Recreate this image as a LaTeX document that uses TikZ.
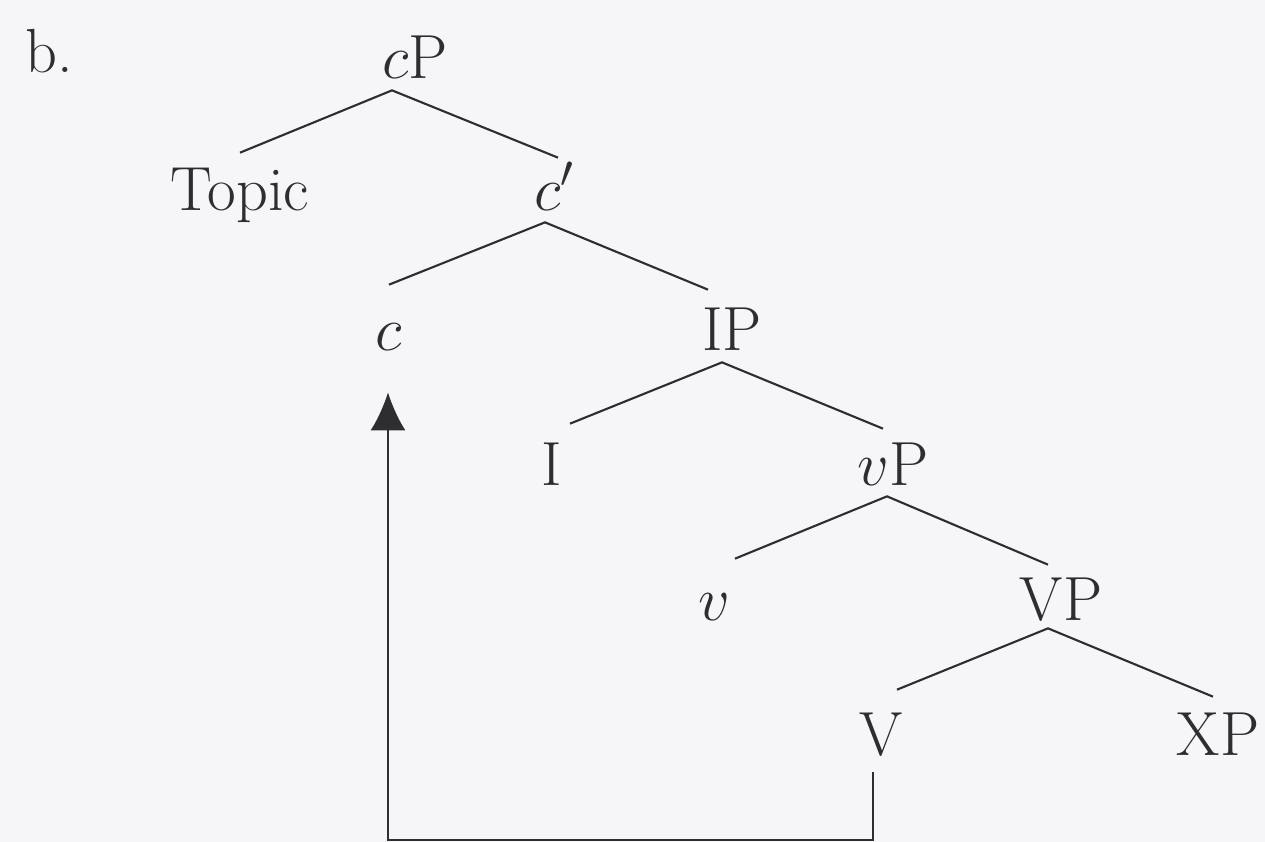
\RequirePackage{fix-cm}
\documentclass[tikz,border=0pt]{standalone}
\usetikzlibrary{arrows.meta,calc}
\DeclareMathSizes{35.5}{35.5}{26}{20}
\definecolor{paper}{rgb}{0.965,0.962,0.968}
\definecolor{ink}{rgb}{0.18,0.18,0.19}
\tikzset{
  lbl/.style={anchor=base,inner sep=0pt,text height=0.86cm,text depth=0pt,text=ink,font=\fontsize{35.5}{40}\selectfont},
  branch/.style={draw=ink,line width=1.2pt},
  movearrow/.style={draw=ink,line width=1.2pt,-{Latex[length=0.76cm,width=0.7cm]}}
}
\begin{document}
\begin{tikzpicture}[x=0.02cm,y=-0.02cm]
\fill[paper] (0,0) rectangle (1265,842);
\useasboundingbox (0,0) rectangle (1265,842);
\node[lbl,anchor=base west] (b) at (25,72) {b.};
\node[lbl] (cP) at (415,78) {$c$P};
\node[lbl] (Topic) at (240,210) {Topic};
\node[lbl] (cbar) at (554,210) {$c'$};
\node[lbl] (c) at (389,350) {$c$};
\node[lbl] (IP) at (732,350) {IP};
\node[lbl] (I) at (552,485) {I};
\node[lbl] (vP) at (893,485) {$v$P};
\node[lbl] (v) at (714,620) {$v$};
\node[lbl] (VP) at (1061,620) {VP};
\node[lbl] (V) at (881,755) {V};
\node[lbl] (XP) at (1218,755) {XP};
\coordinate (turnV) at (873,840);
\coordinate (turnc) at (388,840);
% branches
\draw[branch] ($(Topic.north)+(0,-14)$) -- ($(cP.south)+(-23,12)$) -- ($(cbar.north)+(4,-9)$);
\draw[branch] ($(c.north)+(0,-22)$) -- ($(cbar.south)+(-9,12)$) -- ($(IP.north)+(-24,-17)$);
\draw[branch] ($(I.north)+(18,-18)$) -- ($(IP.south)+(-10,12)$) -- ($(vP.north)+(-10,-13)$);
\draw[branch] ($(v.north)+(21,-18)$) -- ($(vP.south)+(-6,11)$) -- ($(VP.north)+(-13,-12)$);
\draw[branch] ($(V.north)+(16,-22)$) -- ($(VP.south)+(-13,8)$) -- ($(XP.north)+(-5,-15)$);
% movement
\draw[movearrow] ($(V.south)+(-8,17)$) -- (turnV) -- (turnc) -- ($(c.south)+(-1,42)$);
\end{tikzpicture}
\end{document}
